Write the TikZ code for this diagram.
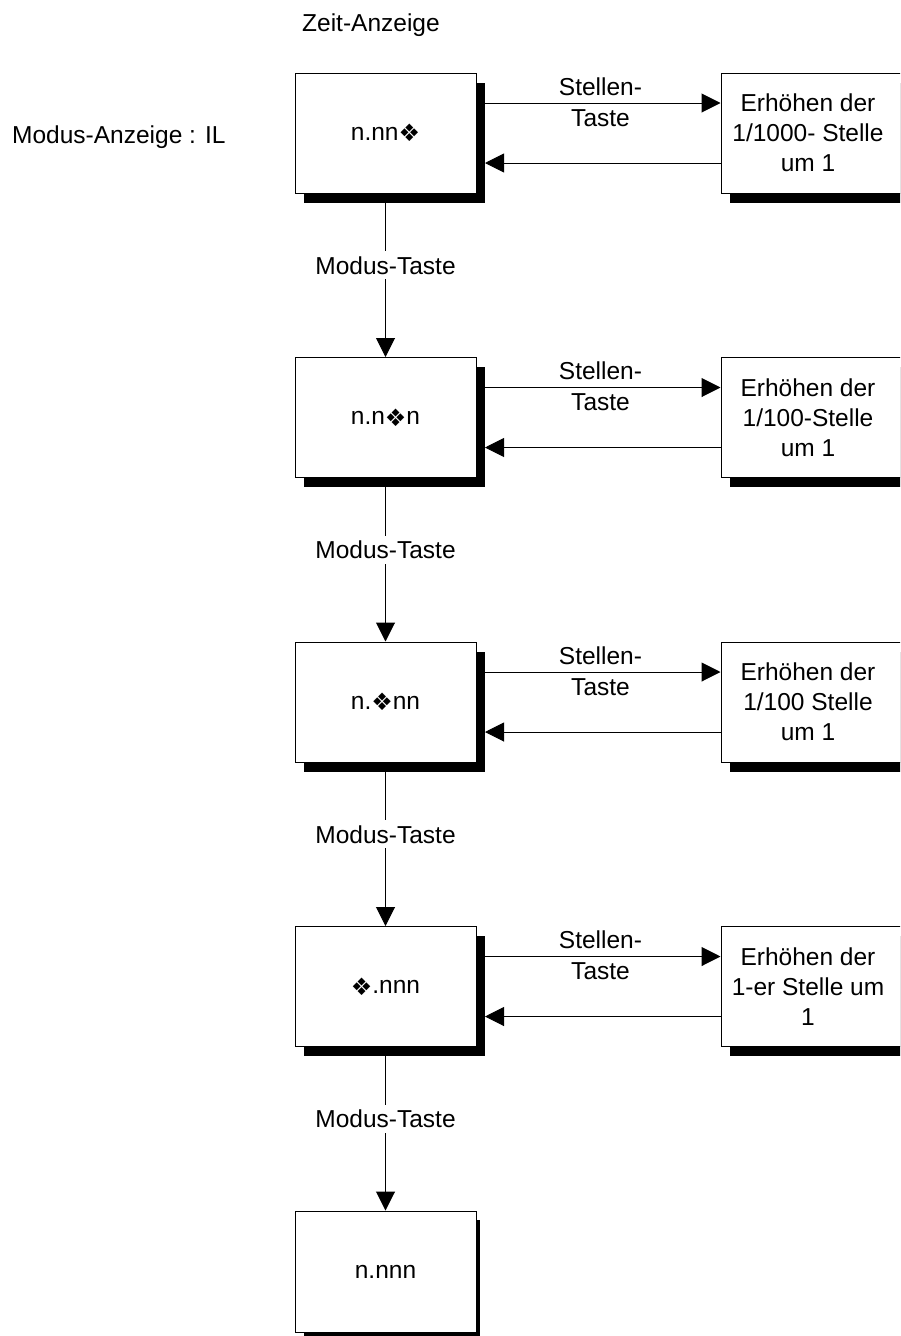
\documentclass[tikz,border=0pt]{standalone}
\usepackage{fontspec}
\setmainfont{Liberation Sans}
\newfontfamily\dingf{DejaVu Sans}
\usetikzlibrary{arrows.meta,shadows,calc}
\newcommand{\mydia}{\raisebox{-1.5pt}{\dingf\fontsize{24}{24}\selectfont ❖}}
\begin{document}
\begin{tikzpicture}[x=1pt,y=-1pt,
  every node/.style={font=\fontsize{24.5}{30}\selectfont},
  sh/.style={drop shadow={shadow xshift=8.5pt,shadow yshift=-9.5pt,fill=black,opacity=1}},
  lbox/.style={draw,line width=1pt,fill=white,minimum width=181pt,minimum height=120pt,inner sep=0pt},
  rbox/.style={draw,line width=1pt,fill=white,minimum width=184pt,minimum height=120pt,inner sep=0pt},
  rtext/.style={align=center,inner sep=0pt},
  klabel/.style={align=center,inner sep=0pt,font=\fontsize{24.5}{31}\selectfont},
  mlabel/.style={fill=white,inner xsep=2pt,inner ysep=5pt},
  arr/.style={line width=1pt,-{Triangle[length=19pt,width=19pt]}},
  plain/.style={inner sep=0pt,anchor=base west}
]
\useasboundingbox (0,0) rectangle (900,1336);
\clip (0,0) rectangle (900,1336);
\fill[white] (0,0) rectangle (900,1336);

\node[plain] (zeit) at (302,31.5) {Zeit-Anzeige};
\node[plain] (modus) at (12,143.3) {Modus-Anzeige : IL};

% left boxes
\node[lbox,sh] (l1) at (385.5,133) {n.nn\mydia};
\node[lbox,sh] (l2) at (385.5,417.5) {n.n\mydia n};
\node[lbox,sh] (l3) at (385.5,702) {n.\mydia nn};
\node[lbox,sh] (l4) at (385.5,986.5) {\mydia.nnn};
\fill (304,1220) rectangle (480,1345);
\node[lbox,minimum height=121pt] (l5) at (385.5,1271.5) {n.nnn};

% right boxes
\node[rbox,sh] (r1) at (813,133) {};
\node[rbox,sh] (r2) at (813,417.5) {};
\node[rbox,sh] (r3) at (813,702) {};
\node[rbox,sh] (r4) at (813,986.5) {};
\node[rtext] (t1) at ($(r1.center)+(-5,0)$) {Erhöhen der\\1/1000- Stelle\\um 1};
\node[rtext] (t2) at ($(r2.center)+(-5,0)$) {Erhöhen der\\1/100-Stelle\\um 1};
\node[rtext] (t3) at ($(r3.center)+(-5,0)$) {Erhöhen der\\1/100 Stelle\\um 1};
\node[rtext] (t4) at ($(r4.center)+(-5,0)$) {Erhöhen der\\1-er Stelle um\\1};

% horizontal connectors
\foreach \i in {1,2,3,4}{
  \draw[arr] ($(l\i.east)+(8.5,-30)$) -- ($(r\i.west)+(0,-30)$);
  \draw[arr] ($(r\i.west)+(0,30)$) -- ($(l\i.east)+(8.5,30)$);
  \node[klabel] (k\i) at ($(l\i.east)!0.5!(r\i.west)+(2,-31)$) {Stellen-\\Taste};
}

% vertical connectors
\draw[arr] (l1.south) -- node[mlabel,pos=0.44] (m1) {Modus-Taste} (l2.north);
\draw[arr] (l2.south) -- node[mlabel,pos=0.44] (m2) {Modus-Taste} (l3.north);
\draw[arr] (l3.south) -- node[mlabel,pos=0.44] (m3) {Modus-Taste} (l4.north);
\draw[arr] (l4.south) -- node[mlabel,pos=0.44] (m4) {Modus-Taste} (l5.north);
\end{tikzpicture}
\end{document}
